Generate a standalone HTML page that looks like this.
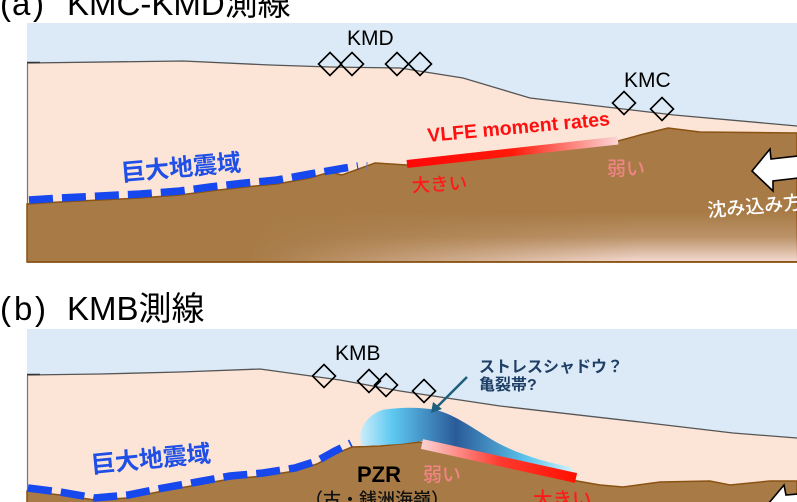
<!DOCTYPE html>
<html><head><meta charset="utf-8"><style>
html,body{margin:0;padding:0;background:#fff;}
svg{display:block;}
text{font-family:"Liberation Sans","Noto Sans CJK JP",sans-serif;}
.cjk{font-family:"Liberation Sans","Noto Sans CJK JP",sans-serif;}
</style></head><body>
<svg width="797" height="502" viewBox="0 0 797 502" xmlns="http://www.w3.org/2000/svg">
<defs>
  <linearGradient id="redA" gradientUnits="userSpaceOnUse" x1="407" y1="0" x2="618" y2="0">
    <stop offset="0" stop-color="#ff0808"/>
    <stop offset="0.5" stop-color="#ff1a0a"/>
    <stop offset="1" stop-color="#fbd6d6"/>
  </linearGradient>
  <linearGradient id="redB" gradientUnits="userSpaceOnUse" x1="422" y1="0" x2="577" y2="0">
    <stop offset="0" stop-color="#fbd2d2"/>
    <stop offset="0.5" stop-color="#ff3a30"/>
    <stop offset="1" stop-color="#ff1000"/>
  </linearGradient>
  <linearGradient id="blueG" gradientUnits="userSpaceOnUse" x1="362" y1="0" x2="575" y2="0">
    <stop offset="0" stop-color="#c6ebfa"/>
    <stop offset="0.14" stop-color="#5ec9f1"/>
    <stop offset="0.44" stop-color="#2a5b99"/>
    <stop offset="0.78" stop-color="#5ec6ee"/>
    <stop offset="1" stop-color="#d6f2fb"/>
  </linearGradient>
  <linearGradient id="vg" gradientUnits="userSpaceOnUse" x1="0" y1="212" x2="0" y2="262">
    <stop offset="0" stop-color="#f6dcd4" stop-opacity="0"/>
    <stop offset="0.5" stop-color="#f6dcd4" stop-opacity="0.25"/>
    <stop offset="1" stop-color="#f8e0da" stop-opacity="0.95"/>
  </linearGradient>
  <linearGradient id="mg" gradientUnits="userSpaceOnUse" x1="250" y1="0" x2="640" y2="0">
    <stop offset="0" stop-color="#000"/>
    <stop offset="1" stop-color="#fff"/>
  </linearGradient>
  <mask id="mA"><rect x="27" y="200" width="770" height="63" fill="url(#mg)"/></mask>
</defs>

<!-- ================= Panel (a) ================= -->
<text x="0" y="15" font-size="33" fill="#000">(</text>
<text x="12" y="15" font-size="33" fill="#000">a</text>
<text x="33" y="15" font-size="33" fill="#000">)</text>
<text x="67" y="15" font-size="33" fill="#000" class="cjk">KMC-KMD測線</text>

<rect x="27" y="23" width="770" height="240" fill="#dceaf7"/>
<polygon fill="#fce4d7" points="27,63 183,61 270,65 330,67 400,68 463,78 530,98 674,115 797,126 797,205 27,205"/>
<polyline fill="none" stroke="#555" stroke-width="1.3" points="27,63 183,61 270,65 330,67 400,68 463,78 530,98 674,115 797,126"/>
<line x1="27.5" y1="63" x2="27.5" y2="205" stroke="#777" stroke-width="1.2"/>
<line x1="27" y1="62.5" x2="40" y2="62.5" stroke="#333" stroke-width="1.5"/>
<polygon fill="#a87b46" stroke="#8a5213" stroke-width="1.5" points="27,204 60,202 100,200 140,198 180,195 210,191 245,187 277,184 310,178 330,172 342,175 375,163 407,165 618,141 640,135 668,128 700,132 797,133 797,262 27,262"/>
<rect x="28" y="205" width="769" height="56" fill="url(#vg)" mask="url(#mA)"/>
<line x1="27" y1="262" x2="797" y2="262" stroke="#8a5213" stroke-width="1.5"/>

<polyline fill="none" stroke="#1748ee" stroke-width="7.5" stroke-dasharray="24,9" points="29,200 60,198 100,196 140,194 180,191 210,187 245,183 277,180 310,174 345,168 358,166"/>
<line x1="367" y1="162" x2="367" y2="170" stroke="#6a7ad0" stroke-width="1"/>

<line x1="407" y1="164" x2="618" y2="140.5" stroke="url(#redA)" stroke-width="8"/>

<g fill="none" stroke="#000" stroke-width="1.6">
  <polygon points="330,52.5 341.5,64 330,75.5 318.5,64"/>
  <polygon points="352,52.5 363.5,64 352,75.5 340.5,64"/>
  <polygon points="397,52.5 408.5,64 397,75.5 385.5,64"/>
  <polygon points="420,52.5 431.5,64 420,75.5 408.5,64"/>
  <polygon points="624,91.5 635.5,103 624,114.5 612.5,103"/>
  <polygon points="662,97.5 673.5,109 662,120.5 650.5,109"/>
</g>
<text x="347" y="45" font-size="21" fill="#000">KMD</text>
<text x="624" y="87" font-size="21" fill="#000">KMC</text>

<text x="428" y="142" font-size="19.5" font-weight="bold" fill="#ff1010" transform="rotate(-5.3 428 142)">VLFE moment rates</text>
<text x="122" y="181" font-size="24" font-weight="bold" fill="#1f4fe6" class="cjk" transform="rotate(-5 122 181)">巨大地震域</text>
<text x="412" y="192" font-size="18.5" font-weight="500" fill="#ff1a1a" class="cjk" transform="rotate(-3 412 192)">大きい</text>
<text x="607" y="175" font-size="19" font-weight="500" fill="#f08484" class="cjk">弱い</text>

<polygon fill="#fff" stroke="#000" stroke-width="1.6" stroke-linejoin="miter" points="752,171 770,149 771,159 798,156 798,178 773,181 773,191"/>
<text x="708" y="217" font-size="19" font-weight="500" fill="#fff" class="cjk" transform="rotate(-5 708 217)">沈み込み方向</text>

<!-- ================= Panel (b) ================= -->
<text x="0" y="320" font-size="33" fill="#000">(</text>
<text x="14" y="320" font-size="33" fill="#000">b</text>
<text x="35" y="320" font-size="33" fill="#000">)</text>
<text x="67" y="320" font-size="33" fill="#000" class="cjk">KMB測線</text>

<rect x="27" y="329" width="770" height="173" fill="#dceaf7"/>
<polygon fill="#fce4d7" points="27,375 100,374 180,372 260,369 340,380 400,391 500,406 640,422 733,433 797,438 797,502 27,502"/>
<polyline fill="none" stroke="#555" stroke-width="1.3" points="27,375 100,374 180,372 260,369 340,380 400,391 500,406 640,422 733,433 797,438"/>
<line x1="27.5" y1="375" x2="27.5" y2="502" stroke="#777" stroke-width="1.2"/>
<line x1="27" y1="374.5" x2="40" y2="374.5" stroke="#333" stroke-width="1.5"/>

<polygon fill="#a87b46" stroke="#8a5213" stroke-width="1.5" points="27,491 60,495 95,500 128,498 163,491 197,485 230,479 263,476 295,471 317,464 335,454 352,447 380,446 400,444 420,442 577,481 600,485 623,487 660,482 710,481 730,485 770,481 797,481 797,503 27,503"/>

<path fill="url(#blueG)" d="M362,446 C357,432 364,417 382,410 C400,407 420,407 436,410 C456,415 472,428 496,442 C520,455 546,462 570,467 L576,474 L422,441 L400,444 Z"/>
<line x1="422" y1="444" x2="576" y2="478" stroke="url(#redB)" stroke-width="10"/>

<polyline fill="none" stroke="#1748ee" stroke-width="7.5" stroke-dasharray="24,9" points="28,488 60,492 95,498 128,495 163,488 197,482 230,476 263,473 295,468 317,461 335,451 351,443"/>

<g fill="none" stroke="#000" stroke-width="1.6">
  <polygon points="324,364.5 335.5,376 324,387.5 312.5,376"/>
  <polygon points="369,369.5 380.5,381 369,392.5 357.5,381"/>
  <polygon points="386,373.5 397.5,385 386,396.5 374.5,385"/>
  <polygon points="424,379.5 435.5,391 424,402.5 412.5,391"/>
</g>
<text x="335" y="360" font-size="21" fill="#000">KMB</text>

<line x1="467" y1="377" x2="437" y2="407" stroke="#1e5f7d" stroke-width="2.5"/>
<polygon fill="#1e5f7d" points="431,413 433,402 442,409"/>
<text x="479" y="372" font-size="16" font-weight="bold" fill="#1e3f66" class="cjk">ストレスシャドウ？</text>
<text x="479" y="390" font-size="16" font-weight="bold" fill="#1e3f66" class="cjk">亀裂帯?</text>

<text x="92" y="473" font-size="24" font-weight="bold" fill="#1f4fe6" class="cjk" transform="rotate(-5.5 92 473)">巨大地震域</text>
<text x="357" y="482" font-size="22" font-weight="bold" fill="#000">PZR</text>
<text x="305" y="506" font-size="18" font-weight="500" fill="#111" class="cjk">（古・銭洲海嶺）</text>
<text x="423" y="481" font-size="19" font-weight="500" fill="#f08484" class="cjk">弱い</text>
<text x="533" y="506" font-size="19.5" font-weight="500" fill="#ff1a1a" class="cjk">大きい</text>

<polygon fill="#fff" stroke="#000" stroke-width="1.6" points="758,516 784,485 786,495 798,494 798,520"/>
</svg>
</body></html>
